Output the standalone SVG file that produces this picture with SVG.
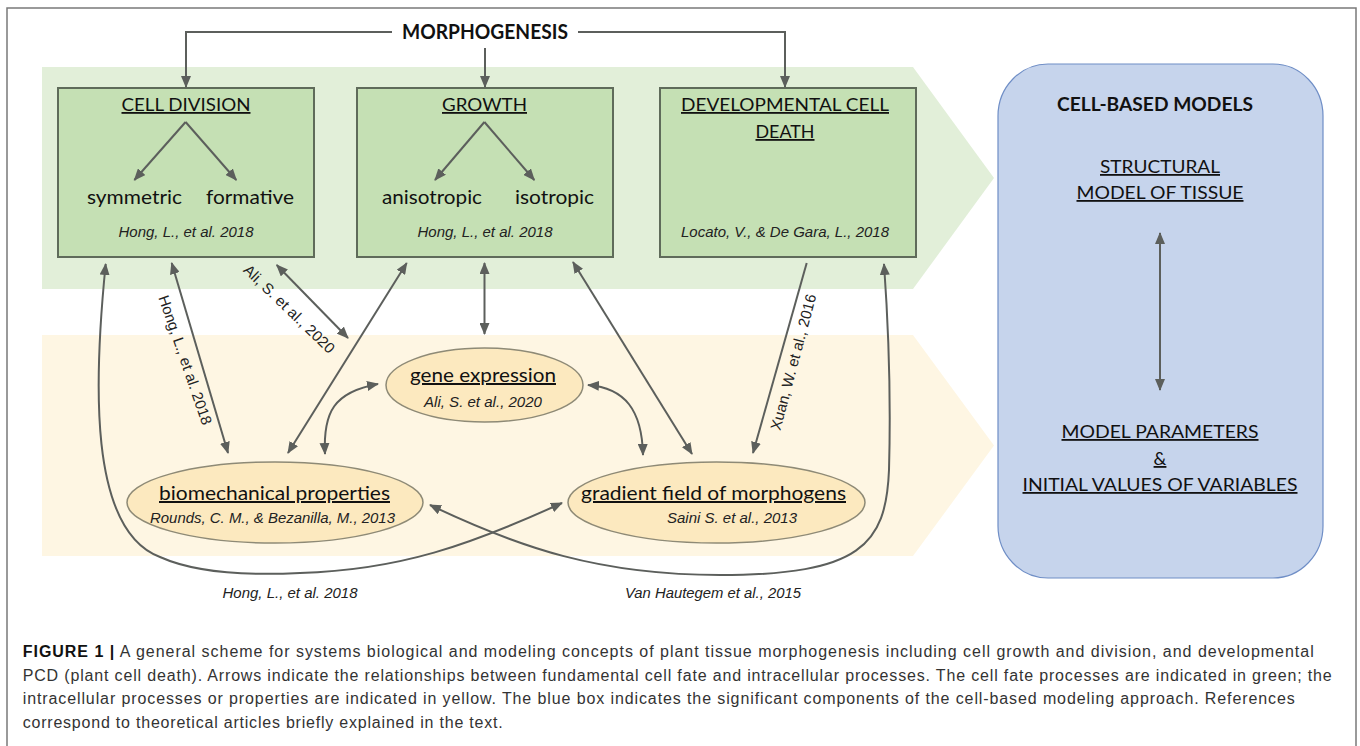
<svg xmlns="http://www.w3.org/2000/svg" width="1360" height="746" viewBox="0 0 1360 746">
<style>
.h{font-family:Lato,"Open Sans","Liberation Sans",sans-serif;fill:#111;}
.u{text-decoration:underline;}
.b{font-weight:bold;}
.r{font-family:"Liberation Sans",Arial,sans-serif;font-style:italic;font-size:15px;fill:#222;}
.l{font-family:"Liberation Sans",Arial,sans-serif;font-size:15px;fill:#222;}
.cap{font-family:"Liberation Sans",Arial,sans-serif;font-size:16px;fill:#333;}
.c{stroke:#5c5f5c;stroke-width:2;fill:none;}
.box{fill:#c5e0b4;stroke:#5f6b5a;stroke-width:2;}
.ell{fill:#fce9bf;stroke:#8e8a76;stroke-width:1.5;}
</style>
<defs>
<marker id="ah" viewBox="0 0 12 10" refX="11" refY="5" markerWidth="12" markerHeight="10" markerUnits="userSpaceOnUse" orient="auto-start-reverse">
<path d="M0,0 L12,5 L0,10 z" fill="#5c5f5c"/>
</marker>
</defs>
<rect width="1360" height="746" fill="#fff"/>
<path d="M7,746 V8 H1356 V746" fill="none" stroke="#7a7a7a" stroke-width="1.5"/>

<g id="bands">
<polygon points="42,67 913,67 994,178 913,289 42,289" fill="#e2efd9"/>
<polygon points="42,335 913,335 994,445.5 913,556 42,556" fill="#fef6e3"/>
</g>

<g id="morphogenesis">
<text class="h b" x="485" y="39" font-size="20" text-anchor="middle" textLength="166" lengthAdjust="spacingAndGlyphs">MORPHOGENESIS</text>
</g>

<g id="cell-division">
<rect class="box" x="58" y="88" width="256" height="169"/>
<text class="h u" x="186" y="111" font-size="18" text-anchor="middle" textLength="129" lengthAdjust="spacingAndGlyphs">CELL DIVISION</text>
<text class="h" x="134.5" y="204" font-size="20" text-anchor="middle" textLength="95" lengthAdjust="spacingAndGlyphs">symmetric</text>
<text class="h" x="250" y="204" font-size="20" text-anchor="middle" textLength="88" lengthAdjust="spacingAndGlyphs">formative</text>
<text class="r" x="186" y="237" text-anchor="middle" textLength="135" lengthAdjust="spacingAndGlyphs">Hong, L., et al. 2018</text>
</g>

<g id="growth">
<rect class="box" x="357" y="88" width="256" height="169"/>
<text class="h u" x="484.5" y="111" font-size="18" text-anchor="middle" textLength="85" lengthAdjust="spacingAndGlyphs">GROWTH</text>
<text class="h" x="432" y="204" font-size="20" text-anchor="middle" textLength="100" lengthAdjust="spacingAndGlyphs">anisotropic</text>
<text class="h" x="554.5" y="204" font-size="20" text-anchor="middle" textLength="79" lengthAdjust="spacingAndGlyphs">isotropic</text>
<text class="r" x="485" y="237" text-anchor="middle" textLength="135" lengthAdjust="spacingAndGlyphs">Hong, L., et al. 2018</text>
</g>

<g id="developmental-cell-death">
<rect class="box" x="660" y="88" width="256" height="169"/>
<text class="h u" x="785" y="111" font-size="18" text-anchor="middle" textLength="208" lengthAdjust="spacingAndGlyphs">DEVELOPMENTAL CELL</text>
<text class="h u" x="785" y="138" font-size="18" text-anchor="middle" textLength="59" lengthAdjust="spacingAndGlyphs">DEATH</text>
<text class="r" x="785" y="237" text-anchor="middle" textLength="208" lengthAdjust="spacingAndGlyphs">Locato, V., &amp; De Gara, L., 2018</text>
</g>

<g id="gene-expression">
<ellipse class="ell" cx="484.5" cy="385" rx="98.5" ry="37"/>
<text class="h u" x="483" y="382" font-size="20" text-anchor="middle" textLength="146" lengthAdjust="spacingAndGlyphs">gene expression</text>
<text class="r" x="483" y="407" text-anchor="middle" textLength="118" lengthAdjust="spacingAndGlyphs">Ali, S. et al., 2020</text>
</g>

<g id="biomechanical-properties">
<ellipse class="ell" cx="275" cy="502.5" rx="148" ry="40.5"/>
<text class="h u" x="274.5" y="500" font-size="20" text-anchor="middle" textLength="231" lengthAdjust="spacingAndGlyphs">biomechanical properties</text>
<text class="r" x="272.5" y="523" text-anchor="middle" textLength="245" lengthAdjust="spacingAndGlyphs">Rounds, C. M., &amp; Bezanilla, M., 2013</text>
</g>

<g id="gradient-field">
<ellipse class="ell" cx="716.5" cy="502.5" rx="148.5" ry="40.5"/>
<text class="h u" x="713.5" y="500" font-size="20" text-anchor="middle" textLength="265" lengthAdjust="spacingAndGlyphs">gradient field of morphogens</text>
<text class="r" x="732" y="523" text-anchor="middle" textLength="130" lengthAdjust="spacingAndGlyphs">Saini S. et al., 2013</text>
</g>

<g id="cell-based-models">
<rect x="998" y="64" width="325" height="514" rx="50" ry="52" fill="#c6d4ec" stroke="#6f8ec6" stroke-width="1.2"/>
<text class="h b" x="1155" y="111" font-size="18" text-anchor="middle" textLength="196" lengthAdjust="spacingAndGlyphs">CELL-BASED MODELS</text>
<text class="h u" x="1160" y="173" font-size="18" text-anchor="middle" textLength="120" lengthAdjust="spacingAndGlyphs">STRUCTURAL</text>
<text class="h u" x="1160" y="199" font-size="18" text-anchor="middle" textLength="167" lengthAdjust="spacingAndGlyphs">MODEL OF TISSUE</text>
<text class="h u" x="1160" y="438" font-size="18" text-anchor="middle" textLength="197" lengthAdjust="spacingAndGlyphs">MODEL PARAMETERS</text>
<text class="h u" x="1160" y="465" font-size="18" text-anchor="middle">&amp;</text>
<text class="h u" x="1160" y="491" font-size="18" text-anchor="middle" textLength="275" lengthAdjust="spacingAndGlyphs">INITIAL VALUES OF VARIABLES</text>
</g>

<g id="connectors">
<path class="c" d="M392,32 H186 V87" marker-end="url(#ah)"/>
<path class="c" d="M578,32 H785 V87" marker-end="url(#ah)"/>
<path class="c" d="M485,48 V87" marker-end="url(#ah)"/>
<path class="c" d="M185.6,122 L134.4,180" marker-end="url(#ah)"/>
<path class="c" d="M185.6,122 L236.3,180" marker-end="url(#ah)"/>
<path class="c" d="M484.4,122 L435,180" marker-end="url(#ah)"/>
<path class="c" d="M484.4,122 L534.3,180" marker-end="url(#ah)"/>
<path class="c" d="M1160,233 V390" marker-start="url(#ah)" marker-end="url(#ah)"/>
<path class="c" d="M171.7,263 L228,453" marker-start="url(#ah)" marker-end="url(#ah)"/>
<path class="c" d="M276.7,265 L348,338" marker-start="url(#ah)" marker-end="url(#ah)"/>
<path class="c" d="M406.7,263 L288,453" marker-start="url(#ah)" marker-end="url(#ah)"/>
<path class="c" d="M484.5,263 V334" marker-start="url(#ah)" marker-end="url(#ah)"/>
<path class="c" d="M573,262 L692,454" marker-start="url(#ah)" marker-end="url(#ah)"/>
<path class="c" d="M806.7,263 L753,453" marker-end="url(#ah)"/>
<path class="c" d="M325,454 C323,412 334,392 378,384" marker-start="url(#ah)" marker-end="url(#ah)"/>
<path class="c" d="M643,455 C642,410 625,388 588,385" marker-start="url(#ah)" marker-end="url(#ah)"/>
<path class="c" d="M105.7,264 C94,380 88,530 160,557 C200,575 260,575 300,573 C400,570 470,545 562,503" marker-start="url(#ah)" marker-end="url(#ah)"/>
<path class="c" d="M430,505 C520,548 600,575 720,575 C860,575 886,545 889,470 C891,400 888,320 884,264" marker-start="url(#ah)" marker-end="url(#ah)"/>
</g>

<g id="connector-labels">
<text class="l" transform="translate(180.3,361.7) rotate(71)" text-anchor="middle" textLength="136" lengthAdjust="spacingAndGlyphs">Hong, L., et al. 2018</text>
<text class="l" transform="translate(285.6,312.7) rotate(44)" text-anchor="middle" textLength="120" lengthAdjust="spacingAndGlyphs">Ali, S. et al., 2020</text>
<text class="l" transform="translate(798.3,363.3) rotate(-75)" text-anchor="middle" textLength="140" lengthAdjust="spacingAndGlyphs">Xuan, W. et al., 2016</text>
<text class="r" x="290" y="598" text-anchor="middle" textLength="135" lengthAdjust="spacingAndGlyphs">Hong, L., et al. 2018</text>
<text class="r" x="713" y="598" text-anchor="middle" textLength="176" lengthAdjust="spacingAndGlyphs">Van Hautegem et al., 2015</text>
</g>

<g id="caption">
<text class="cap" x="22.7" y="657" textLength="1291" lengthAdjust="spacing"><tspan font-weight="bold" fill="#111">FIGURE 1 |</tspan> A general scheme for systems biological and modeling concepts of plant tissue morphogenesis including cell growth and division, and developmental</text>
<text class="cap" x="22.7" y="680.5" textLength="1309" lengthAdjust="spacing">PCD (plant cell death). Arrows indicate the relationships between fundamental cell fate and intracellular processes. The cell fate processes are indicated in green; the</text>
<text class="cap" x="22.7" y="704" textLength="1272" lengthAdjust="spacing">intracellular processes or properties are indicated in yellow. The blue box indicates the significant components of the cell-based modeling approach. References</text>
<text class="cap" x="22.7" y="727.5" textLength="480" lengthAdjust="spacing">correspond to theoretical articles briefly explained in the text.</text>
</g>
</svg>
